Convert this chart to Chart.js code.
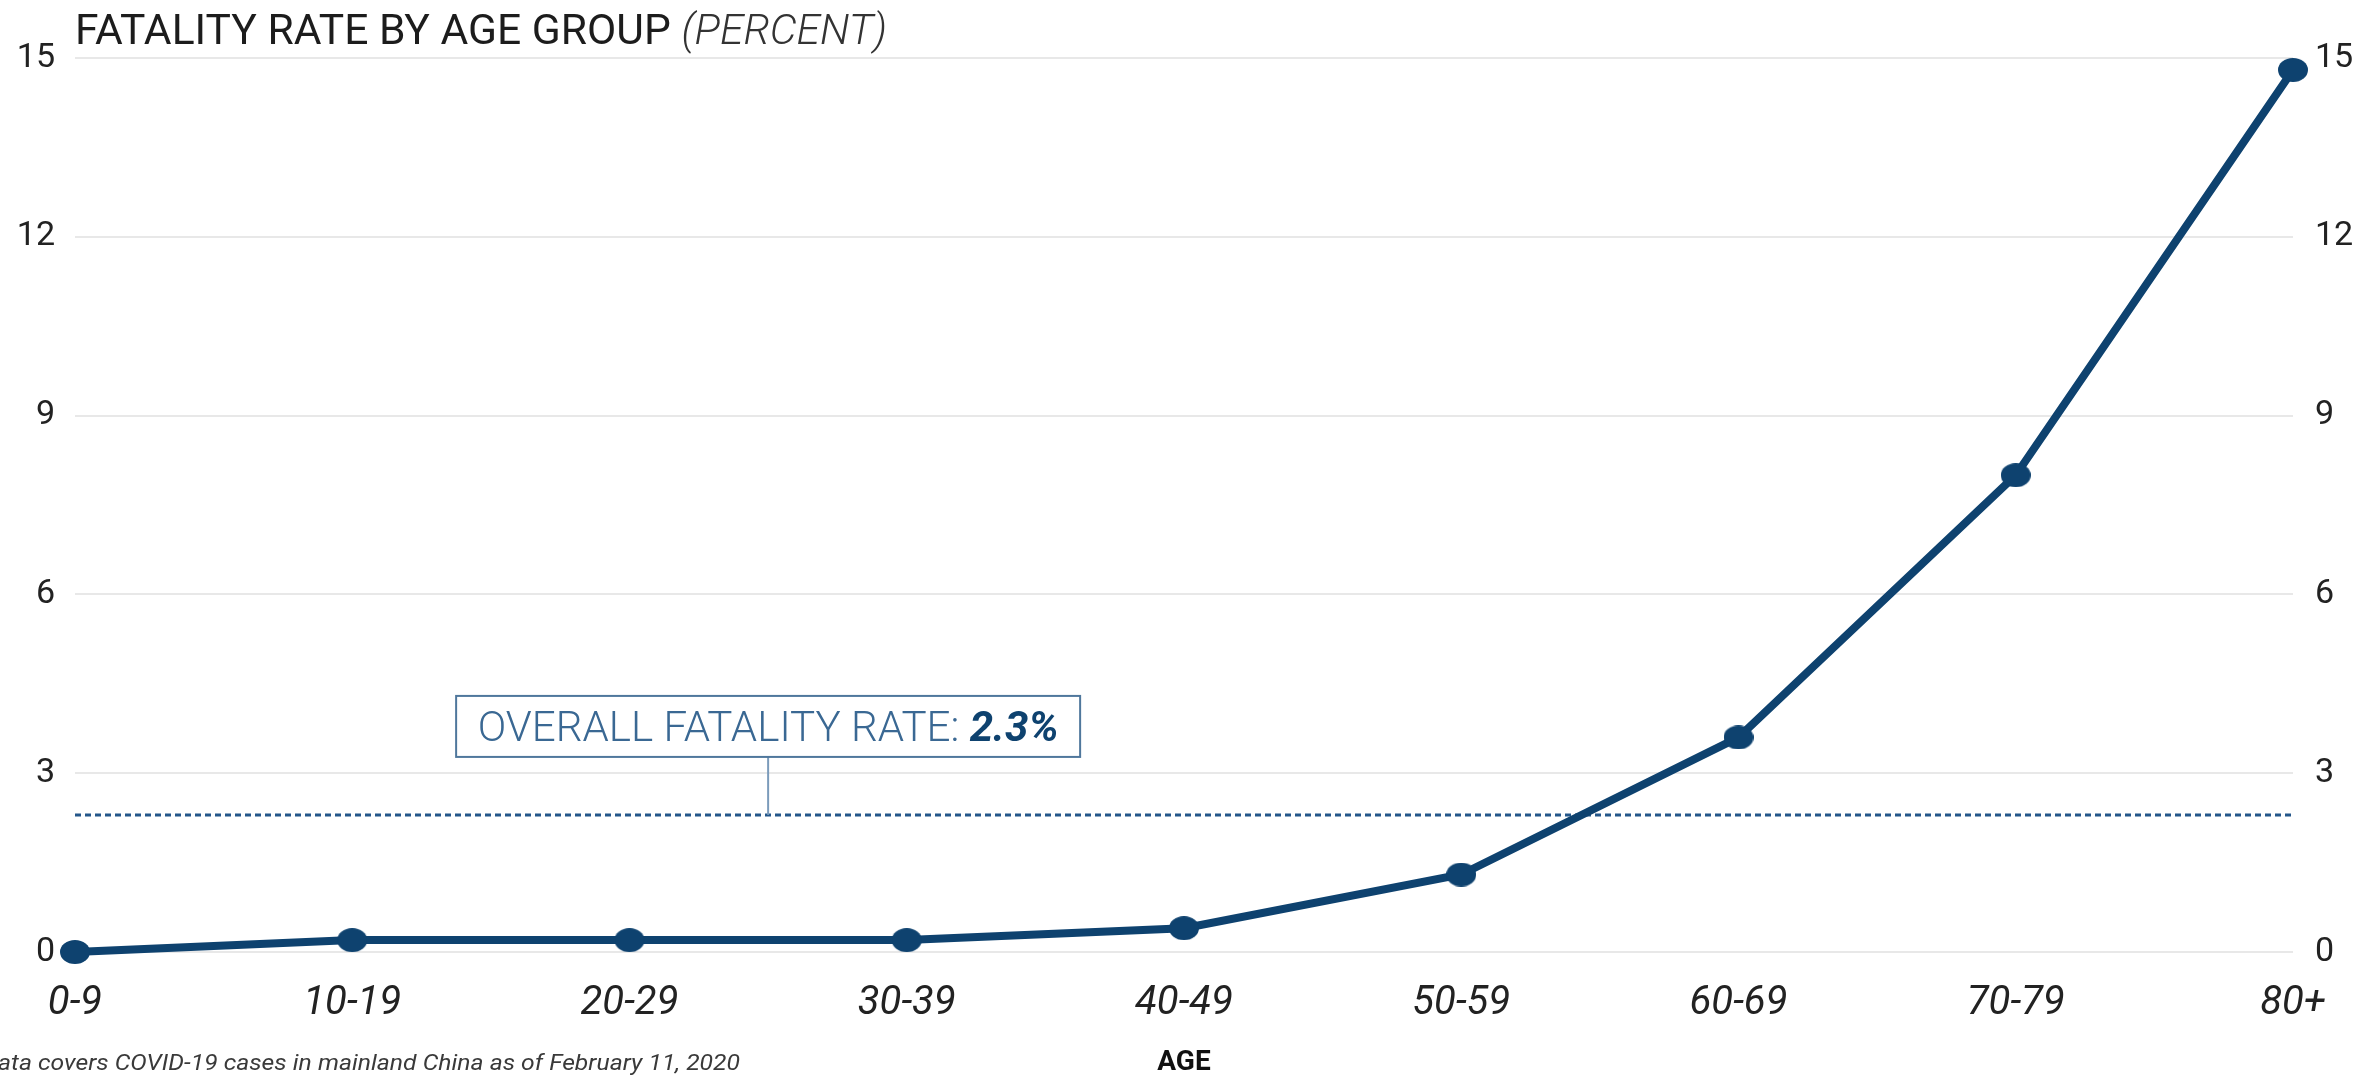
<!DOCTYPE html>
<html>
<head>
<meta charset="utf-8">
<script src="https://cdn.jsdelivr.net/npm/chart.js@4.4.1/dist/chart.umd.min.js"></script>
<style>
  html, body { margin: 0; padding: 0; background: #fff; }
  canvas { display: block; }
</style>
</head>
<body>
<canvas id="fatality" width="2361" height="1081"></canvas>
<script>
const ageGroups = ['0-9', '10-19', '20-29', '30-39', '40-49', '50-59', '60-69', '70-79', '80+']
const fatalityRates = [0, 0.2, 0.2, 0.2, 0.4, 1.3, 3.6, 8.0, 14.8]
const overallRate = 2.3
const yTicks = [0, 3, 6, 9, 12, 15]

const NAVY = '#0e426f'
const FONT = 'Roboto'
const NOTE = 'Data covers COVID-19 cases in mainland China as of February 11, 2020'

// elliptical marker, the original dots are a bit wider than tall
function makeDot(w, h, color) {
  const c = document.createElement('canvas')
  c.width = w
  c.height = h
  const g = c.getContext('2d')
  g.fillStyle = color
  g.beginPath()
  g.ellipse(w / 2, h / 2, w / 2, h / 2, 0, 0, Math.PI * 2)
  g.fill()
  return c
}

// draws a run of [text, font, color] pieces squeezed to a target width
function drawRuns(ctx, runs, x, y, targetWidth, align) {
  let total = 0
  runs.forEach(r => { ctx.font = r[1]; total += ctx.measureText(r[0]).width })
  const sx = targetWidth ? targetWidth / total : 1
  let start = x
  if (align === 'center') start = x - (total * sx) / 2
  ctx.save()
  ctx.translate(start, y)
  ctx.scale(sx, 1)
  ctx.textBaseline = 'alphabetic'
  ctx.textAlign = 'left'
  let cx = 0
  runs.forEach(r => {
    ctx.font = r[1]
    ctx.fillStyle = r[2]
    ctx.fillText(r[0], cx, 0)
    cx += ctx.measureText(r[0]).width
  })
  ctx.restore()
}

const overlay = {
  id: 'overlay',
  afterDraw(chart) {
    const { ctx, chartArea, scales } = chart

    // heading
    drawRuns(ctx, [
      ['FATALITY RATE BY AGE GROUP ', `400 42px ${FONT}`, '#1c1c1c'],
      ['(PERCENT)', `italic 300 42px ${FONT}`, '#333'],
    ], chartArea.left, 44, 812)

    // overall rate callout
    const cx = scales.x.getPixelForValue(2.5)
    const yLine = scales.y.getPixelForValue(overallRate)
    const boxW = 624
    const boxH = 61
    const boxBottom = yLine - 58
    ctx.save()
    ctx.strokeStyle = '#7b9bbb'
    ctx.lineWidth = 2
    ctx.beginPath()
    ctx.moveTo(cx, boxBottom)
    ctx.lineTo(cx, yLine)
    ctx.stroke()
    ctx.fillStyle = '#fff'
    ctx.fillRect(cx - boxW / 2, boxBottom - boxH, boxW, boxH)
    ctx.strokeStyle = '#4f779c'
    ctx.strokeRect(cx - boxW / 2, boxBottom - boxH, boxW, boxH)
    ctx.restore()
    drawRuns(ctx, [
      ['OVERALL FATALITY RATE: ', `300 42px ${FONT}`, '#3a6893'],
      ['2.3%', `italic 700 42px ${FONT}`, NAVY],
    ], cx, boxBottom - boxH / 2 + 15, 581, 'center')

    // source note, the first letter runs off the left edge like the original
    ctx.save()
    ctx.font = `italic 22px ${FONT}`
    const visible = ctx.measureText(NOTE.slice(1)).width
    const sx = 742 / visible
    ctx.translate(740, 1070)
    ctx.scale(sx, 1)
    ctx.fillStyle = '#3a3a3a'
    ctx.textAlign = 'right'
    ctx.textBaseline = 'alphabetic'
    ctx.fillText(NOTE, 0, 0)
    ctx.restore()
  }
}

const tickFont = { family: FONT, size: 34 }

const chart = new Chart(document.getElementById('fatality'), {
  type: 'line',
  data: {
    labels: ageGroups,
    datasets: [
      {
        label: 'Fatality rate',
        data: fatalityRates,
        borderColor: NAVY,
        borderWidth: 8,
        pointStyle: makeDot(30, 24, NAVY),
        pointRadius: 15,
        pointHoverRadius: 15,
        tension: 0,
        clip: false,
        order: 0,
      },
      {
        label: 'Overall',
        data: ageGroups.map(() => overallRate),
        borderColor: '#24578a',
        borderWidth: 3,
        borderDash: [6, 4],
        pointRadius: 0,
        tension: 0,
        order: 1,
      },
    ],
  },
  options: {
    responsive: false,
    animation: false,
    devicePixelRatio: 1,
    layout: { padding: { top: 58, left: 0, right: 0, bottom: 0 } },
    plugins: {
      legend: { display: false },
      tooltip: { enabled: false },
    },
    scales: {
      x: {
        offset: false,
        grid: { display: false, drawTicks: false },
        border: { display: false },
        ticks: {
          autoSkip: false,
          maxRotation: 0,
          padding: 28,
          color: '#222',
          font: { family: FONT, size: 40, style: 'italic' },
        },
        title: {
          display: true,
          text: 'AGE',
          color: '#111',
          font: { family: FONT, size: 28, weight: 'bold', lineHeight: 1 },
          padding: { top: 0, bottom: 4 },
        },
        afterFit(scale) { scale.height = 129 },
      },
      y: {
        position: 'left',
        min: 0,
        max: 15,
        grid: { color: '#e8e8e8', lineWidth: 2, drawTicks: false },
        border: { display: false },
        ticks: { padding: 20, color: '#222', font: tickFont },
        afterBuildTicks(scale) { scale.ticks = yTicks.map(v => ({ value: v })) },
        afterFit(scale) { scale.width = 75 },
      },
      y2: {
        position: 'right',
        min: 0,
        max: 15,
        grid: { display: false, drawTicks: false },
        border: { display: false },
        ticks: { padding: 22, color: '#222', font: tickFont },
        afterBuildTicks(scale) { scale.ticks = yTicks.map(v => ({ value: v })) },
        afterFit(scale) { scale.width = 68 },
      },
    },
  },
  plugins: [overlay],
})
</script>
</body>
</html>
